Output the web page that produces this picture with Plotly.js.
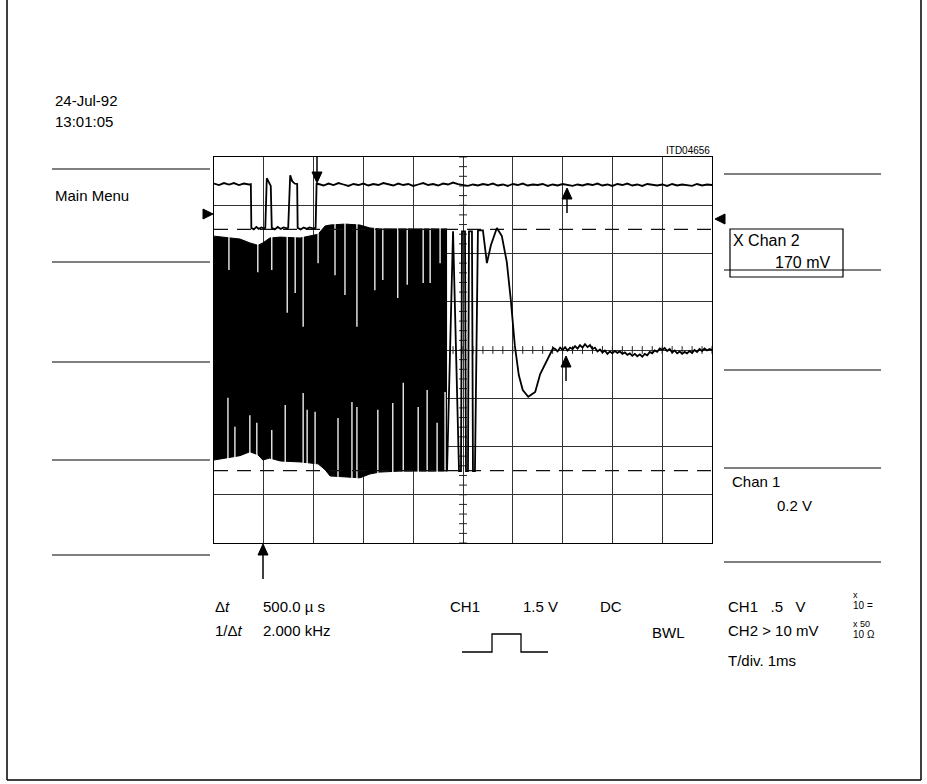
<!DOCTYPE html>
<html><head><meta charset="utf-8">
<script src="https://cdn.plot.ly/plotly-3.0.1.min.js"></script>
<style>html,body{margin:0;padding:0;background:#fff}#chart{width:927px;height:784px}</style>
</head><body><div id="chart"></div>
<script>
// ---------- DATA (x in time divisions, 1 ms/div; y in vertical divisions) ----------
// Channel 1 dense burst: envelope of the oscillation
const ch1EnvX   = [0, 0.22, 0.52, 0.72, 0.88, 0.98, 1.12, 1.33, 1.73, 2.09, 2.23, 2.33, 2.63, 2.93, 3.13, 3.33, 3.73, 4.14, 4.68];
const ch1EnvTop = [2.36, 2.34, 2.30, 2.22, 2.17, 2.22, 2.32, 2.34, 2.32, 2.40, 2.57, 2.59, 2.61, 2.59, 2.53, 2.51, 2.51, 2.51, 2.51];
const ch1EnvBot = [-2.28, -2.24, -2.19, -2.11, -2.17, -2.28, -2.24, -2.30, -2.32, -2.36, -2.48, -2.61, -2.63, -2.65, -2.57, -2.53, -2.51, -2.51, -2.51];
// gaps between cycles that do not reach the top / bottom of the burst
const gapTopX     = [0.30, 0.88, 1.16, 1.47, 1.63, 1.79, 2.09, 2.43, 2.63, 2.87, 3.23, 3.39, 3.69, 3.88, 4.20, 4.34, 4.54];
const gapTopReach = [1.66, 1.61, 1.66, 0.77, 1.18, 0.48, 1.80, 1.55, 1.14, 0.48, 1.24, 1.45, 1.08, 1.35, 1.39, 1.39, 1.80];
const gapBotX     = [0.28, 0.42, 0.72, 0.86, 1.16, 1.43, 1.79, 1.87, 2.03, 2.49, 2.77, 2.87, 3.29, 3.59, 3.80, 4.10, 4.28, 4.48, 4.64];
const gapBotReach = [-0.99, -1.59, -1.35, -1.51, -1.66, -1.14, -0.89, -1.24, -1.28, -1.41, -1.08, -1.18, -1.24, -1.10, -0.68, -1.18, -0.83, -1.51, -0.87];
// Channel 1 after the burst: ringing and settling
const ch1RingX = [4.68, 4.80, 4.92, 4.96, 4.98, 5.04, 5.06, 5.10, 5.12, 5.18, 5.20, 5.24, 5.30, 5.40, 5.48, 5.56, 5.68, 5.78, 5.88, 5.96, 6.04, 6.12, 6.20, 6.31, 6.39, 6.45, 6.55, 6.71, 6.81];
const ch1RingY = [-2.51, 2.46, -2.51, -2.51, 2.46, 2.46, -2.51, -2.51, 2.46, 2.46, -2.51, -2.51, 2.48, 2.48, 1.80, 2.17, 2.53, 2.36, 1.82, 1.04, 0.10, -0.52, -0.83, -0.97, -0.91, -0.87, -0.50, -0.17, 0.04];
// Channel 1 settled level, sampled every 0.05 div from 6.85 to 10.0
const ch1TailStart = 6.85, ch1TailStep = 0.05;
const ch1TailY = [0.02, -0.03, 0.05, 0.00, 0.06, -0.01, 0.05, 0.02, 0.08, 0.03, 0.10, 0.05, 0.12, 0.06, 0.10, 0.02,
  0.05, -0.03, 0.01, -0.05, -0.01, -0.08, -0.03, -0.07, -0.02, -0.06, -0.03, -0.08, -0.05, -0.10, -0.07, -0.12,
  -0.08, -0.13, -0.09, -0.14, -0.08, -0.11, -0.04, -0.07, -0.01, -0.04, 0.03, 0.00, 0.04, -0.02, 0.02, -0.05,
  -0.01, -0.07, -0.03, -0.08, -0.04, -0.07, -0.02, -0.06, 0.00, -0.04, 0.02, -0.02, 0.03, -0.01, 0.02, 0.00];
// Channel 2: pulses then high level
const ch2PulseX = [0, 0.1, 0.2, 0.3, 0.4, 0.5, 0.6, 0.7, 0.74, 0.75, 0.8, 0.85, 0.9, 0.95, 1.0, 1.03, 1.06, 1.10, 1.14, 1.16, 1.22, 1.28, 1.34, 1.40, 1.46, 1.49, 1.53, 1.57, 1.62, 1.67, 1.68, 1.74, 1.80, 1.86, 1.92, 1.98, 2.04, 2.06];
const ch2PulseY = [3.45, 3.42, 3.46, 3.43, 3.46, 3.42, 3.45, 3.43, 3.44, 2.53, 2.50, 2.55, 2.51, 2.54, 2.52, 2.53, 3.56, 3.48, 3.40, 2.53, 2.50, 2.55, 2.51, 2.54, 2.52, 2.53, 3.62, 3.50, 3.45, 3.44, 2.53, 2.50, 2.54, 2.51, 2.54, 2.52, 2.53, 3.44];
const ch2HighStart = 2.1, ch2HighStep = 0.1;
const ch2HighY = [3.44, 3.41, 3.45, 3.42, 3.46, 3.43, 3.40, 3.44, 3.42, 3.45,
  3.41, 3.44, 3.42, 3.46, 3.43, 3.41, 3.45, 3.42, 3.44, 3.40,
  3.43, 3.46, 3.42, 3.44, 3.41, 3.45, 3.43, 3.47, 3.44, 3.42,
  3.40, 3.43, 3.41, 3.44, 3.42, 3.45, 3.41, 3.43, 3.40, 3.44,
  3.42, 3.45, 3.41, 3.43, 3.42, 3.44, 3.40, 3.43, 3.41, 3.44,
  3.42, 3.40, 3.43, 3.41, 3.44, 3.42, 3.45, 3.41, 3.43, 3.40,
  3.44, 3.42, 3.45, 3.41, 3.43, 3.40, 3.44, 3.42, 3.41, 3.43,
  3.40, 3.44, 3.41, 3.43, 3.42, 3.40, 3.44, 3.41, 3.43, 3.42];
// cursors (divisions)
const cursorLevels = [2.5, -2.5];

// ---------- BUILD ----------
const FONT = 'Liberation Sans, Arial, sans-serif';
const L = 214, R = 712, TOP = 157, BOT = 543, W = 927, H = 784;
const X = p => (p - L) / (R - L);
const Y = p => (BOT - p) / (BOT - TOP);

const ch1TailX = ch1TailY.map((_, i) => +(ch1TailStart + i * ch1TailStep).toFixed(3));
const ch2HighX = ch2HighY.map((_, i) => +(ch2HighStart + i * ch2HighStep).toFixed(3));

// graticule center ticks
const tkX = [], tkY = [];
for (let i = 0; i <= 50; i++) { const x = i * 0.2; tkX.push(x, x, null); tkY.push(-0.08, 0.08, null); }
for (let i = 0; i <= 40; i++) { const y = -4 + i * 0.2; tkX.push(4.92, 5.08, null); tkY.push(y, y, null); }

const gX = [], gY = [];
gapTopX.forEach((x, i) => { gX.push(x, x, null); gY.push(2.7, gapTopReach[i], null); });
gapBotX.forEach((x, i) => { gX.push(x, x, null); gY.push(-2.7, gapBotReach[i], null); });

const cX = [], cY = [];
cursorLevels.forEach(v => { cX.push(0, 10, null); cY.push(v, v, null); });

const traces = [
  {x: tkX, y: tkY, mode: 'lines', line: {color: '#222', width: 1}, hoverinfo: 'skip'},
  {x: ch1EnvX, y: ch1EnvBot, mode: 'lines', line: {color: '#000', width: 1}, hoverinfo: 'skip'},
  {x: ch1EnvX, y: ch1EnvTop, mode: 'lines', fill: 'tonexty', fillcolor: '#000', line: {color: '#000', width: 1}, hoverinfo: 'skip'},
  {x: gX, y: gY, mode: 'lines', line: {color: '#fff', width: 1.3}, hoverinfo: 'skip'},
  {x: cX, y: cY, mode: 'lines', line: {color: '#111', width: 1.4, dash: '14px,9px'}, hoverinfo: 'skip'},
  {x: ch1RingX.concat(ch1TailX), y: ch1RingY.concat(ch1TailY), mode: 'lines', line: {color: '#000', width: 1.8}, hoverinfo: 'skip'},
  {x: ch2PulseX.concat(ch2HighX), y: ch2PulseY.concat(ch2HighY), mode: 'lines', line: {color: '#000', width: 1.8}, hoverinfo: 'skip'}
];

function T(text, xp, yp, size, anchor) {
  return {text: text, x: X(xp), y: Y(yp), xref: 'paper', yref: 'paper', xanchor: anchor || 'left', yanchor: 'middle',
          showarrow: false, font: {family: FONT, size: size || 15, color: '#000'}};
}
const NB = '\u00A0';
const row1 = 606, row2 = 630, row3 = 660;
const annotations = [
  T('24-Jul-92', 53, 101), T('13:01:05', 53, 122), T('Main Menu', 53, 195),
  T('ITD04656', 712, 151, 10, 'right'),
  T('X Chan 2', 731, 240, 16), T('170 mV', 832, 262, 16, 'right'),
  T('Chan 1', 730, 481), T('0.2 V', 775, 505),
  T('Δ<i>t</i>', 213, row1), T('500.0 µ' + NB + 's', 261, row1),
  T('1/Δ<i>t</i>', 213, row2), T('2.000 kHz', 261, row2),
  T('CH1', 448, row1), T('1.5 V', 521, row1), T('DC', 598, row1),
  T('BWL', 650, row2 + 2),
  T('CH1' + NB + NB + NB + '.5' + NB + NB + NB + 'V', 726, row1),
  T('CH2 > 10 mV', 726, row2),
  T('T/div. 1ms', 726, row3),
  T('x', 851, row1 - 11, 9), T('10 =', 851, row1 - 1, 10),
  T('x' + NB + '50', 851, row2 - 6, 9), T('10' + NB + 'Ω', 851, row2 + 4, 10)
];

function seg(x0, y0, x1, y1, w) {
  return {type: 'line', xref: 'paper', yref: 'paper', x0: X(x0), y0: Y(y0), x1: X(x1), y1: Y(y1), line: {color: '#000', width: w || 1}};
}
function tri(pts) {
  const d = 'M ' + pts.map(p => X(p[0]) + ',' + Y(p[1])).join(' L ') + ' Z';
  return {type: 'path', xref: 'paper', yref: 'paper', path: d, fillcolor: '#000', line: {color: '#000', width: 1}};
}
const shapes = [
  // outer frame
  seg(7, 0, 7, 780, 1.5), seg(921, 0, 921, 780, 1.5), seg(7, 780, 921, 780, 1.5),
  // menu separators left
  seg(52, 169, 210, 169), seg(52, 262, 210, 262), seg(52, 362, 210, 362), seg(52, 460, 210, 460), seg(52, 555, 210, 555),
  // menu separators right
  seg(724, 174, 881, 174), seg(724, 270, 881, 270), seg(724, 370, 881, 370), seg(724, 468, 881, 468), seg(724, 562, 881, 562),
  // X Chan 2 box
  {type: 'rect', xref: 'paper', yref: 'paper', x0: X(730), y0: Y(229), x1: X(843), y1: Y(277), line: {color: '#000', width: 1.2}},
  // level markers
  tri([[213, 214], [203, 209], [203, 219]]),
  tri([[715, 219], [725, 214], [725, 224]]),
  // cursor arrows
  seg(317, 157, 317, 174, 1.5), tri([[317, 183], [312, 172], [322, 172]]),
  seg(567, 198, 567, 213, 1.5), tri([[567, 188], [562, 199], [572, 199]]),
  seg(566, 366, 566, 381, 1.5), tri([[566, 356], [561, 367], [571, 367]]),
  seg(263, 554, 263, 579, 1.5), tri([[263, 544], [258, 555], [268, 555]]),
  // pulse symbol
  {type: 'path', xref: 'paper', yref: 'paper',
   path: 'M ' + [[462, 652], [492, 652], [492, 634], [521, 634], [521, 652], [548, 652]].map(p => X(p[0]) + ',' + Y(p[1])).join(' L '),
   line: {color: '#000', width: 1.3}}
];

const axisCommon = {showgrid: true, gridcolor: '#333', gridwidth: 1, zeroline: false, showticklabels: false, ticks: '',
                    showline: true, mirror: true, linecolor: '#000', linewidth: 1.2, fixedrange: true};
const layout = {
  width: W, height: H,
  margin: {l: L, r: W - R, t: TOP, b: H - BOT, pad: 0},
  paper_bgcolor: '#fff', plot_bgcolor: '#fff', showlegend: false,
  xaxis: Object.assign({range: [0, 10], dtick: 1, tick0: 0}, axisCommon),
  yaxis: Object.assign({range: [-4, 4], dtick: 1, tick0: -4}, axisCommon),
  annotations: annotations, shapes: shapes
};
Plotly.newPlot('chart', traces, layout, {staticPlot: true, displayModeBar: false});
</script></body></html>
